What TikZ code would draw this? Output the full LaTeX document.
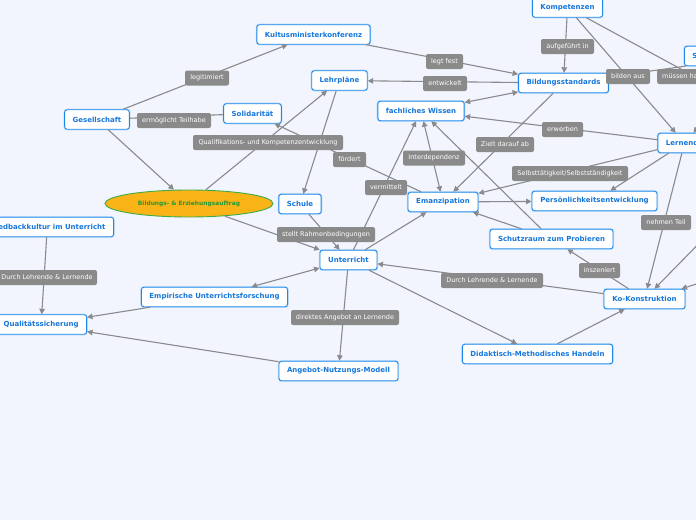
\documentclass[tikz,border=0pt]{standalone}
\usepackage{fontspec}
\setmainfont{DejaVu Sans}
\usetikzlibrary{shapes.geometric,arrows.meta}
\definecolor{bgc}{RGB}{242,245,253}
\definecolor{nodeblue}{RGB}{30,136,235}
\definecolor{nodetext}{RGB}{22,118,218}
\definecolor{edgegrey}{RGB}{138,138,142}
\definecolor{lblgrey}{RGB}{138,138,138}
\definecolor{aufill}{RGB}{250,180,24}
\definecolor{audraw}{RGB}{60,172,72}
\definecolor{autext}{RGB}{40,150,50}
\begin{document}
\begin{tikzpicture}[x=1pt,y=-1pt,
  box/.style={draw=nodeblue, line width=0.9pt, fill=white, rounded corners=2.5pt,
    text=nodetext, font=\fontsize{7}{8}\selectfont\bfseries, minimum height=19.5pt,
    inner ysep=0pt, inner xsep=8pt, preaction={draw=nodeblue!30, line width=2.2pt}},
  lbl/.style={fill=lblgrey, text=white, rounded corners=2pt,
    font=\fontsize{6.5}{7.5}\selectfont, minimum height=15pt, inner ysep=0pt, inner xsep=3pt},
  con/.style={draw=edgegrey, line width=1.1pt},
  arr/.style={con, -{Triangle[length=5.5pt,width=5.5pt]}},
  darr/.style={con, {Triangle[length=5.5pt,width=5.5pt]}-{Triangle[length=5.5pt,width=5.5pt]}}]
\fill[bgc] (0,0) rectangle (696,520);
\useasboundingbox (0,0) rectangle (696,520);
\clip (0,0) rectangle (696,520);
% boxes
\node[box, minimum width=69pt] (komp) at (567.5,7.5) {Kompetenzen};
\node[box, minimum width=113pt] (kmk) at (313.5,34.5) {Kultusministerkonferenz};
\node[box, minimum width=55pt] (lehr) at (339.5,80.5) {Lehrpläne};
\node[box, minimum width=57pt] (soli) at (252.5,113.5) {Solidarität};
\node[box, minimum width=64pt] (ges) at (97,119.5) {Gesellschaft};
\node[box, minimum width=86pt] (fw) at (421,111) {fachliches Wissen};
\node[box, minimum width=89pt] (bs) at (563.5,83) {Bildungsstandards};
\node[box, anchor=west, text width=134pt, align=left] (S) at (684,56) {S};
\node[box, minimum width=53pt] (lern) at (684.5,143) {Lernende};
\node[box, minimum width=70pt] (eman) at (443,202) {Emanzipation};
\node[box, minimum width=125pt] (pe) at (594.5,201) {Persönlichkeitsentwicklung};
\node[box, minimum width=123pt] (schutz) at (551.5,239) {Schutzraum zum Probieren};
\node[box, minimum width=81pt] (koko) at (644.5,299) {Ko-Konstruktion};
\node[box, minimum width=149pt] (dmh) at (537.5,354) {Didaktisch-Methodisches Handeln};
\node[box, minimum width=57pt] (unt) at (348.5,260) {Unterricht};
\node[box, minimum width=42pt] (schule) at (300,204) {Schule};
\node[ellipse, draw=audraw, line width=0.9pt, fill=aufill, minimum width=168pt,
  minimum height=27pt, inner sep=0pt, text=autext,
  font=\fontsize{5.9}{7}\selectfont\bfseries] (auf) at (189,203.5) {Bildungs- \& Erziehungsauftrag};
\node[box, anchor=east] (feed) at (114,227) {Feedbackkultur im Unterricht};
\node[box, anchor=east] (qs) at (87,324.5) {Qualitätssicherung};
\node[box, minimum width=145pt] (emp) at (214.5,297) {Empirische Unterrichtsforschung};
\node[box, minimum width=119pt] (anm) at (338.5,371) {Angebot-Nutzungs-Modell};
% off-picture ends
\coordinate (offM) at (760,112);
\coordinate (offK1) at (720,222);
\coordinate (offK2) at (740,270);
% connectors
\draw[arr] (ges) -- (kmk);
\draw[con] (ges) -- (soli);
\draw[arr] (ges) -- (auf);
\draw[arr] (auf) -- (lehr);
\draw[arr] (eman) -- (soli);
\draw[arr] (lehr) -- (schule);
\draw[arr] (kmk) -- (bs);
\draw[arr] (bs) -- (lehr);
\draw[darr] (bs) -- (fw);
\draw[arr] (komp) -- (bs);
\draw[arr] (komp) -- (lern);
\draw[con] (komp) -- (offM);
\draw[con] (S) -- (bs);
\draw[arr] (S) -- (lern);
\draw[arr] (lern) -- (fw);
\draw[arr] (lern) -- (eman);
\draw[arr] (lern) -- (pe);
\draw[arr] (lern) -- (koko);
\draw[arr] (offK1) -- (koko);
\draw[arr] (offK2) -- ([xshift=-4pt]koko.north east);
\draw[arr] (bs) -- (eman);
\draw[darr] (fw) -- (eman);
\draw[arr] (unt) -- (fw);
\draw[arr] (schutz) -- (fw);
\draw[arr] (schutz) -- (eman);
\draw[arr] (eman) -- (pe);
\draw[arr] (koko) -- (schutz);
\draw[arr] (koko) -- (unt);
\draw[arr] (dmh) -- (koko);
\draw[arr] (unt) -- (dmh);
\draw[arr] (unt) -- (eman);
\draw[arr] (schule) -- (unt);
\draw[arr] (auf) -- (unt);
\draw[darr] (unt) -- (emp);
\draw[arr] (unt) -- (anm);
\draw[arr] (emp) -- (qs);
\draw[arr] (anm) -- (qs);
\draw[arr] (feed) -- (qs);
% labels
\node[lbl, minimum width=44pt] (l1) at (207,78) {legitimiert};
\node[lbl, minimum width=74pt] (l2) at (174,120.5) {ermöglicht Teilhabe};
\node[lbl, minimum width=150pt] (l3) at (268,142.5) {Qualifikations- und Kompetenzentwicklung};
\node[lbl, minimum width=37pt] (l4) at (444.5,61.5) {legt fest};
\node[lbl, minimum width=44pt] (l5) at (445,83.5) {entwickelt};
\node[lbl, minimum width=53pt] (l6) at (567.5,46.5) {aufgeführt in};
\node[lbl, minimum width=44pt] (l7) at (628,76.5) {bilden aus};
\node[lbl, anchor=west, inner xsep=5pt] (l8) at (657,76.5) {müssen haben};
\node[lbl, minimum width=41pt] (l9) at (562.5,129.5) {erwerben};
\node[lbl, minimum width=58pt] (l10) at (505,144.5) {Zielt darauf ab};
\node[lbl, minimum width=33pt] (l11) at (349.5,159.5) {fördert};
\node[lbl, minimum width=62pt] (l12) at (434,158) {Interdependenz};
\node[lbl, minimum width=42pt] (l13) at (386,187.5) {vermittelt};
\node[lbl, minimum width=116pt] (l14) at (570,173.5) {Selbsttätigkeit/Selbstständigkeit};
\node[lbl, minimum width=98pt] (l15) at (326,234.5) {stellt Rahmenbedingungen};
\node[lbl, minimum width=50pt] (l16) at (666,222.5) {nehmen Teil};
\node[lbl, minimum width=102pt] (l17) at (492,280.5) {Durch Lehrende \& Lernende};
\node[lbl, minimum width=41pt] (l18) at (599.5,270.5) {inszeniert};
\node[lbl, minimum width=108pt] (l19) at (345,317.5) {direktes Angebot an Lernende};
\node[lbl, minimum width=100pt] (l20) at (47,277.5) {Durch Lehrende \& Lernende};
\end{tikzpicture}
\end{document}
